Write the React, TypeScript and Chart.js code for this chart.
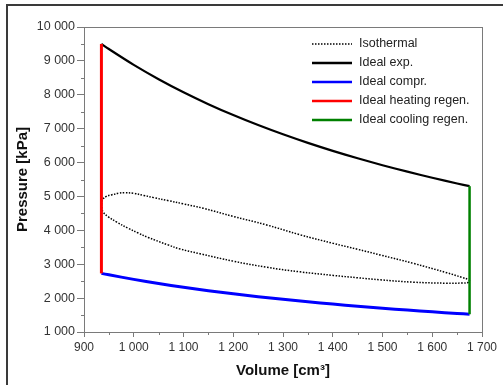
import React, { useEffect, useRef } from "react";
import { Chart, registerables } from "chart.js";

Chart.register(...registerables);

// ---- data ----
const volIdeal = [935, 950, 1000, 1050, 1100, 1150, 1200, 1250, 1300, 1350, 1400, 1450, 1500, 1550, 1600, 1650, 1675];
const pIdealExp = [9500, 9350, 8883, 8460, 8075, 7724, 7402, 7106, 6833, 6580, 6345, 6126, 5922, 5731, 5552, 5383, 5303];
const pIdealCompr = [2730, 2687, 2553, 2431, 2321, 2220, 2127, 2042, 1964, 1891, 1823, 1760, 1702, 1647, 1595, 1547, 1524];

const volHeating = [935, 935];
const pHeating = [2730, 9500];
const volCooling = [1675, 1675];
const pCooling = [1524, 5303];

const volIso = [
  935, 937, 945, 955, 970, 982, 1000, 1020, 1040, 1070, 1100, 1140, 1200, 1267, 1334, 1401, 1450, 1495, 1562, 1629, 1660, 1672, 1675,
  1672, 1660, 1629, 1562, 1495, 1450, 1401, 1334, 1267, 1200, 1133, 1093, 1069, 1029, 1009, 989, 966, 949, 938, 935,
];
const pIso = [
  4760, 4900, 5000, 5045, 5095, 5110, 5090, 5030, 4965, 4875, 4780, 4650, 4410, 4160, 3870, 3615, 3440, 3275, 3025, 2750, 2610, 2550, 2505,
  2462, 2445, 2440, 2470, 2540, 2600, 2670, 2775, 2910, 3090, 3310, 3450, 3570, 3790, 3920, 4060, 4240, 4400, 4550, 4760,
];

const xTicks = [900, 1000, 1100, 1200, 1300, 1400, 1500, 1600, 1700];
const yTicks = [1000, 2000, 3000, 4000, 5000, 6000, 7000, 8000, 9000, 10000];

const labels = ["Isothermal", "Ideal exp.", "Ideal compr.", "Ideal heating regen.", "Ideal cooling regen."];
const colors = ["#000000", "#000000", "#0000ff", "#ff0000", "#008000"];

const pts = (xs: number[], ys: number[]) => xs.map((x, i) => ({ x, y: ys[i] }));
const fmt = (v: number) => String(v).replace(/\B(?=(\d{3})+(?!\d))/g, " ");

const FONT = "'Liberation Sans', Arial, sans-serif";

const decorPlugin = {
  id: "decor",
  beforeDraw(chart: any) {
    const { ctx, width, height } = chart;
    ctx.save();
    ctx.fillStyle = "#ffffff";
    ctx.fillRect(0, 0, width, height);
    ctx.strokeStyle = "#3a3a3a";
    ctx.lineWidth = 2;
    ctx.beginPath();
    ctx.moveTo(7, height);
    ctx.lineTo(7, 5);
    ctx.lineTo(width, 5);
    ctx.stroke();
    ctx.restore();
  },
  afterDraw(chart: any) {
    const { ctx, chartArea } = chart;
    const xs = chart.scales.x;
    const ys = chart.scales.y;
    ctx.save();
    // plot box
    ctx.strokeStyle = "#7a7a7a";
    ctx.lineWidth = 1;
    ctx.strokeRect(chartArea.left + 0.5, chartArea.top + 0.5, chartArea.right - chartArea.left, chartArea.bottom - chartArea.top);
    // minor ticks
    ctx.beginPath();
    for (let i = 0; i < xTicks.length - 1; i++) {
      const px = Math.round(xs.getPixelForValue((xTicks[i] + xTicks[i + 1]) / 2)) + 0.5;
      ctx.moveTo(px, chartArea.bottom);
      ctx.lineTo(px, chartArea.bottom + 3);
    }
    for (let i = 0; i < yTicks.length - 1; i++) {
      const py = Math.round(ys.getPixelForValue((yTicks[i] + yTicks[i + 1]) / 2)) + 0.5;
      ctx.moveTo(chartArea.left - 3, py);
      ctx.lineTo(chartArea.left, py);
    }
    ctx.stroke();
    // legend
    const x0 = 312, x1 = 352, tx = 359;
    const rowY = [44, 63, 82, 101, 120];
    ctx.font = "12.5px " + FONT;
    ctx.textBaseline = "middle";
    ctx.textAlign = "left";
    labels.forEach((lab, i) => {
      ctx.beginPath();
      ctx.strokeStyle = colors[i];
      if (i === 0) {
        ctx.lineWidth = 1.5;
        ctx.setLineDash([1.5, 1.5]);
      } else {
        ctx.lineWidth = 2.5;
        ctx.setLineDash([]);
      }
      ctx.moveTo(x0, rowY[i]);
      ctx.lineTo(x1, rowY[i]);
      ctx.stroke();
      ctx.setLineDash([]);
      ctx.fillStyle = "#222222";
      ctx.fillText(lab, tx, rowY[i]);
    });
    ctx.restore();
  },
};

export default function App() {
  const ref = useRef<HTMLCanvasElement>(null);
  useEffect(() => {
    document.body.style.margin = "0";
    const canvas = ref.current!;
    const chart = new Chart(canvas, {
      type: "line",
      data: {
        datasets: [
          { label: labels[4], data: pts(volCooling, pCooling), borderColor: colors[4], borderWidth: 2.5 },
          { label: labels[3], data: pts(volHeating, pHeating), borderColor: colors[3], borderWidth: 3 },
          {
            label: labels[0],
            data: pts(volIso, pIso),
            borderColor: colors[0],
            borderWidth: 1.5,
            borderDash: [1.5, 1.5],
            tension: 0.4,
          },
          { label: labels[1], data: pts(volIdeal, pIdealExp), borderColor: colors[1], borderWidth: 2.2, tension: 0.3 },
          { label: labels[2], data: pts(volIdeal, pIdealCompr), borderColor: colors[2], borderWidth: 3, tension: 0.3 },
        ] as any,
      },
      options: {
        animation: false,
        responsive: false,
        devicePixelRatio: 1,
        datasets: { line: { pointRadius: 0, fill: false } } as any,
        layout: { padding: { left: 0, right: 21, top: 27, bottom: 0 } },
        plugins: { legend: { display: false }, tooltip: { enabled: false } },
        scales: {
          x: {
            type: "linear",
            min: 900,
            max: 1700,
            afterFit: (s: any) => { s.height = 53; },
            afterBuildTicks: (s: any) => { s.ticks = xTicks.map((v) => ({ value: v })); },
            ticks: { callback: (v: any) => fmt(Number(v)), color: "#333333", font: { family: FONT, size: 12 }, padding: 3, maxRotation: 0 },
            grid: { drawOnChartArea: false, drawTicks: true, tickLength: 5, color: "#7a7a7a" },
            border: { display: true, color: "#7a7a7a" },
            title: { display: true, text: "Volume [cm³]", color: "#111111", font: { family: FONT, size: 15, weight: "bold" }, padding: { top: 0, bottom: 5 } },
          },
          y: {
            type: "linear",
            min: 1000,
            max: 10000,
            afterFit: (s: any) => { s.width = 84; },
            afterBuildTicks: (s: any) => { s.ticks = yTicks.map((v) => ({ value: v })); },
            ticks: { callback: (v: any) => fmt(Number(v)), color: "#333333", font: { family: FONT, size: 12.5 }, padding: 2 },
            grid: { drawOnChartArea: false, drawTicks: true, tickLength: 7, color: "#7a7a7a" },
            border: { display: true, color: "#7a7a7a" },
            title: { display: true, text: "Pressure [kPa]", color: "#111111", font: { family: FONT, size: 15, weight: "bold" }, padding: { top: 14, bottom: 0 } },
          },
        },
      } as any,
      plugins: [decorPlugin],
    });
    return () => chart.destroy();
  }, []);
  return (
    <div style={{ position: "absolute", left: 0, top: 0, width: 503, height: 385 }}>
      <canvas ref={ref} width={503} height={385} style={{ width: 503, height: 385, display: "block" }} />
    </div>
  );
}
